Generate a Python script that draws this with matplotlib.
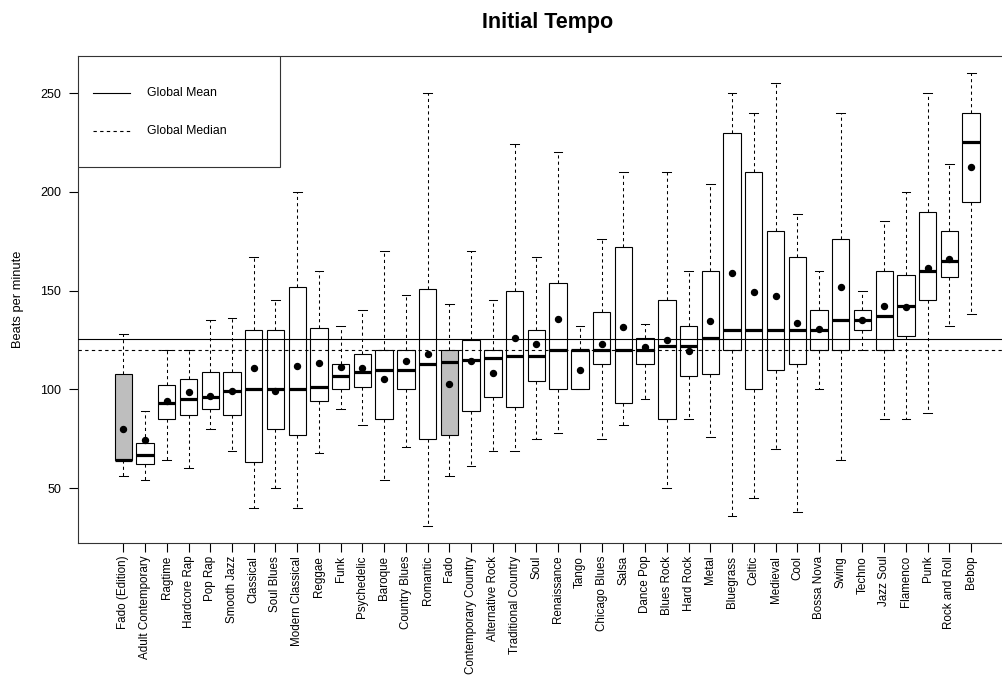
import matplotlib
matplotlib.use("Agg")
import matplotlib.pyplot as plt
from matplotlib.patches import Rectangle

plt.rcParams['font.family'] = ['Liberation Sans', 'DejaVu Sans']

genres = ["Fado (Edition)", "Adult Contemporary", "Ragtime", "Hardcore Rap", "Pop Rap",
          "Smooth Jazz", "Classical", "Soul Blues", "Modern Classical", "Reggae",
          "Funk", "Psychedelic", "Baroque", "Country Blues", "Romantic",
          "Fado", "Contemporary Country", "Alternative Rock", "Traditional Country", "Soul",
          "Renaissance", "Tango", "Chicago Blues", "Salsa", "Dance Pop",
          "Blues Rock", "Hard Rock", "Metal", "Bluegrass", "Celtic",
          "Medieval", "Cool", "Bossa Nova", "Swing", "Techno",
          "Jazz Soul", "Flamenco", "Punk", "Rock and Roll", "Bebop"]

whisk_lo = [56, 54, 64, 60, 80, 69, 40, 50, 40, 68,
            90, 82, 54, 71, 31, 56, 61, 69, 69, 75,
            78, 100, 75, 82, 95, 50, 85, 76, 36, 45,
            70, 38, 100, 64, 120, 85, 85, 88, 132, 138]
q1 = [64, 62, 85, 87, 90, 87, 63, 80, 77, 94,
      100, 101, 85, 100, 75, 77, 89, 96, 91, 104,
      100, 100, 113, 93, 113, 85, 107, 108, 120, 100,
      110, 113, 120, 120, 130, 120, 127, 145, 157, 195]
medians = [64, 67, 93, 95, 96, 99, 100, 100, 100, 101,
           107, 109, 110, 110, 113, 114, 115, 116, 117, 117,
           120, 120, 120, 120, 120, 122, 122, 126, 130, 130,
           130, 130, 130, 135, 135, 137, 142, 160, 165, 225]
q3 = [108, 73, 102, 105, 109, 109, 130, 130, 152, 131,
      113, 118, 120, 120, 151, 120, 125, 120, 150, 130,
      154, 120, 139, 172, 126, 145, 132, 160, 230, 210,
      180, 167, 140, 176, 140, 160, 158, 190, 180, 240]
whisk_hi = [128, 89, 120, 120, 135, 136, 167, 145, 200, 160,
            132, 140, 170, 148, 250, 143, 170, 145, 224, 167,
            220, 132, 176, 210, 133, 210, 160, 204, 250, 240,
            255, 189, 160, 240, 150, 185, 200, 250, 214, 260]
means = [80, 74.3, 94, 98.6, 96.6, 99.3, 110.6, 99.3, 111.6, 113.5,
         111.4, 110.6, 105.4, 114.3, 117.7, 102.5, 114.3, 108.4, 126, 122.8,
         135.6, 109.8, 122.8, 131.5, 121.3, 125, 119.2, 134.4, 158.7, 149.4,
         147.4, 133.6, 130.7, 152, 135, 142.3, 141.6, 161.3, 166.1, 212.6]
highlight = ["Fado (Edition)", "Fado"]

global_mean = 125.3
global_median = 120

fig = plt.figure(figsize=(10.03, 6.82), dpi=100)
ax = fig.add_axes([0.0774, 0.2038, 0.9364, 0.7145])

stats = []
for i, g in enumerate(genres):
    stats.append({"label": g, "whislo": whisk_lo[i], "q1": q1[i], "med": medians[i],
                  "q3": q3[i], "whishi": whisk_hi[i], "mean": means[i], "fliers": []})

pos = list(range(1, len(genres) + 1))
bp = ax.bxp(stats, positions=pos, widths=0.8, capwidths=0.4, patch_artist=True,
            showmeans=True, showfliers=False,
            boxprops=dict(linewidth=0.8, edgecolor="black"),
            medianprops=dict(color="black", linewidth=2.3, solid_capstyle="butt"),
            whiskerprops=dict(linestyle=(0, (3, 3)), linewidth=0.75, color="black"),
            capprops=dict(linewidth=0.75, color="black"),
            meanprops=dict(marker="o", markerfacecolor="black", markeredgecolor="black",
                           markersize=4.3))
for g, patch in zip(genres, bp["boxes"]):
    patch.set_facecolor("#bebebe" if g in highlight else "white")

ax.axhline(global_mean, color="black", linewidth=0.8, zorder=5)
ax.axhline(global_median, color="black", linewidth=0.8, linestyle=(0, (3, 3)), zorder=5)

ax.set_xlim(-1.1, 42.1)
ax.set_ylim(22.2, 268.9)
ax.set_yticks([50, 100, 150, 200, 250])
ax.set_xticks(pos)
ax.set_xticklabels(genres, rotation=90, ha="center", va="top")
ax.tick_params(axis="both", direction="out", length=6.2, width=0.8, labelsize=9, pad=5.5)
ax.tick_params(axis="x", labelsize=8.4, pad=3)
for s in ax.spines.values():
    s.set_linewidth(0.8)
    s.set_color("#333333")

ax.text(0.5, 1.069, "Initial Tempo", transform=ax.transAxes, ha="center", va="center",
        fontsize=15.5, fontweight="bold")
fig.text(18 / 1003, 1 - 299 / 682, "Beats per minute", rotation=90, ha="center",
         va="center", fontsize=9.3)

# legend box, top-left corner
ax.add_patch(Rectangle((0, 0.7722), 0.2155, 0.2278, transform=ax.transAxes,
                       facecolor="white", edgecolor="#333333", linewidth=0.8, zorder=6))
ax.plot([0.0167, 0.0558], [0.9241, 0.9241], transform=ax.transAxes, color="black",
        linewidth=0.8, zorder=7)
ax.plot([0.0167, 0.0558], [0.8461, 0.8461], transform=ax.transAxes, color="black",
        linewidth=0.8, linestyle=(0, (3, 3)), zorder=7)
ax.text(0.0742, 0.9241, "Global Mean", transform=ax.transAxes, va="center", fontsize=8.8,
        zorder=7)
ax.text(0.0742, 0.8461, "Global Median", transform=ax.transAxes, va="center", fontsize=8.8,
        zorder=7)

fig.savefig("out.png", dpi=100)
